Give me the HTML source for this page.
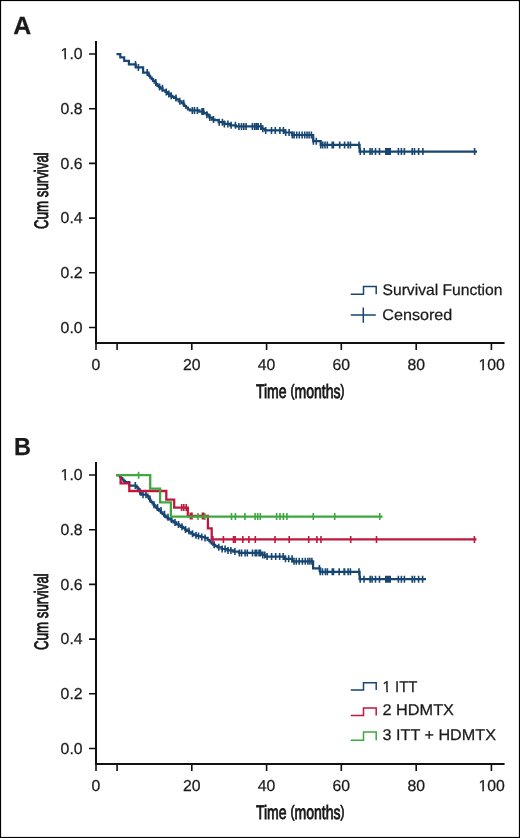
<!DOCTYPE html><html><head><meta charset="utf-8"><style>html,body{margin:0;padding:0;background:#fff}svg{display:block;will-change:transform}text{stroke:#1a1a1a;stroke-width:0.25}text.c{stroke:#111;stroke-width:0.8}text{font-family:"Liberation Sans",sans-serif;text-rendering:geometricPrecision;fill:#1a1a1a}</style></head><body>
<svg width="520" height="838" viewBox="0 0 520 838">
<rect x="0" y="0" width="520" height="838" fill="#fff"/>
<rect x="0.5" y="0.5" width="519" height="837" fill="none" stroke="#000" stroke-width="1.2"/>
<text x="13.2" y="34.4" font-size="24.9" font-weight="bold" fill="#111" textLength="18" lengthAdjust="spacingAndGlyphs">A</text>
<text x="14.1" y="455.3" font-size="24.6" font-weight="bold" fill="#111" textLength="17" lengthAdjust="spacingAndGlyphs">B</text>
<path d="M96 41 V343 H504.6" stroke="#111" stroke-width="2" fill="none" stroke-linecap="butt"/>
<path d="M89 327.5H96M89 272.8H96M89 218.1H96M89 163.4H96M89 108.7H96M89 54H96M96 343V350M117.1 343V350M191.8 343V350M266.6 343V350M341.3 343V350M416.2 343V350M491.4 343V350" stroke="#111" stroke-width="1.6" fill="none"/>
<text x="82.6" y="332.8" text-anchor="end" font-size="15.8" textLength="22" lengthAdjust="spacingAndGlyphs">0.0</text>
<text x="82.6" y="278.1" text-anchor="end" font-size="15.8" textLength="22" lengthAdjust="spacingAndGlyphs">0.2</text>
<text x="82.6" y="223.4" text-anchor="end" font-size="15.8" textLength="22" lengthAdjust="spacingAndGlyphs">0.4</text>
<text x="82.6" y="168.7" text-anchor="end" font-size="15.8" textLength="22" lengthAdjust="spacingAndGlyphs">0.6</text>
<text x="82.6" y="114" text-anchor="end" font-size="15.8" textLength="22" lengthAdjust="spacingAndGlyphs">0.8</text>
<text x="82.6" y="59.3" text-anchor="end" font-size="15.8" textLength="22" lengthAdjust="spacingAndGlyphs">1.0</text>
<text x="96" y="370" text-anchor="middle" font-size="15.8">0</text>
<text x="191.8" y="370" text-anchor="middle" font-size="15.8">20</text>
<text x="266.6" y="370" text-anchor="middle" font-size="15.8">40</text>
<text x="341.3" y="370" text-anchor="middle" font-size="15.8">60</text>
<text x="416.2" y="370" text-anchor="middle" font-size="15.8">80</text>
<text x="491.6" y="370" text-anchor="middle" font-size="15.8">100</text>
<text x="300.2" y="397.6" text-anchor="middle" font-size="19.5" class="c" textLength="88.5" lengthAdjust="spacingAndGlyphs">Time <tspan font-size="16.3" dy="-1.5">(</tspan><tspan dy="1.5">months</tspan><tspan font-size="16.3" dy="-1.5">)</tspan></text>
<text transform="translate(47.9 190.6) rotate(-90)" x="0" y="0" text-anchor="middle" font-size="19.5" class="c" textLength="76.6" lengthAdjust="spacingAndGlyphs">Cum survival</text>
<path d="M96 462 V764 H504.6" stroke="#111" stroke-width="2" fill="none" stroke-linecap="butt"/>
<path d="M89 748.5H96M89 693.8H96M89 639.1H96M89 584.4H96M89 529.7H96M89 475H96M96 764V771M117.1 764V771M191.8 764V771M266.6 764V771M341.3 764V771M416.2 764V771M491.4 764V771" stroke="#111" stroke-width="1.6" fill="none"/>
<text x="82.6" y="753.8" text-anchor="end" font-size="15.8" textLength="22" lengthAdjust="spacingAndGlyphs">0.0</text>
<text x="82.6" y="699.1" text-anchor="end" font-size="15.8" textLength="22" lengthAdjust="spacingAndGlyphs">0.2</text>
<text x="82.6" y="644.4" text-anchor="end" font-size="15.8" textLength="22" lengthAdjust="spacingAndGlyphs">0.4</text>
<text x="82.6" y="589.7" text-anchor="end" font-size="15.8" textLength="22" lengthAdjust="spacingAndGlyphs">0.6</text>
<text x="82.6" y="535" text-anchor="end" font-size="15.8" textLength="22" lengthAdjust="spacingAndGlyphs">0.8</text>
<text x="82.6" y="480.3" text-anchor="end" font-size="15.8" textLength="22" lengthAdjust="spacingAndGlyphs">1.0</text>
<text x="96" y="791" text-anchor="middle" font-size="15.8">0</text>
<text x="191.8" y="791" text-anchor="middle" font-size="15.8">20</text>
<text x="266.6" y="791" text-anchor="middle" font-size="15.8">40</text>
<text x="341.3" y="791" text-anchor="middle" font-size="15.8">60</text>
<text x="416.2" y="791" text-anchor="middle" font-size="15.8">80</text>
<text x="491.6" y="791" text-anchor="middle" font-size="15.8">100</text>
<text x="300.2" y="818.6" text-anchor="middle" font-size="19.5" class="c" textLength="88.5" lengthAdjust="spacingAndGlyphs">Time <tspan font-size="16.3" dy="-1.5">(</tspan><tspan dy="1.5">months</tspan><tspan font-size="16.3" dy="-1.5">)</tspan></text>
<text transform="translate(47.9 611.6) rotate(-90)" x="0" y="0" text-anchor="middle" font-size="19.5" class="c" textLength="76.6" lengthAdjust="spacingAndGlyphs">Cum survival</text>
<path d="M116.5 54.1H120.3V57.3H124.2V60.8H128.9V64.4H135.8V67.4H143.1V72.6H148.2H148.52 V74.3H149.18 V76H149.5H150.22 V77.6H151.68 V79.2H152.4H153.12 V80.9H154.58 V82.6H155.3H156.03 V84.2H157.47 V85.8H158.2H158.92 V87.05H160.38 V88.3H161.1H162.55 V90.3H164H165.45 V92H166.9H168.05 V93.9H170.35 V95.8H171.5H172.38 V96.85H174.12 V97.9H175H176.15 V99.4H177.3H178.75 V101.3H181.65 V103.2H183.1H183.57 V104.6H184.53 V106H185H185.97 V107.7H187.93 V109.4H188.9H189.85 V110.4H190.8H196.5H199.4 V111.6H202.3H203.75 V113.15H206.65 V114.7H208.1H208.57 V116.15H209.53 V117.6H210H211.95 V119.6H213.9H214.85 V120.2H215.8H218.65 V122.2H221.5H224.4 V123.9H227.3H230.2 V125.3H233.1H236 V126.4H238.9H261.5V128.8H265V130.4H284.8V132.5H292V135H313.2V141.2H320.7V144.9H359.6V151.6H477" stroke="#174672" stroke-width="2.2" fill="none" stroke-linejoin="miter"/>
<path d="M135.5 60.9v7M138.4 63.9v7M147.2 69.1v7M155.8 79.1v7M159.6 83.55v7M162.5 84.8v7M166.3 88.5v7M168.8 90.4v7M171.2 92.3v7M176 94.4v7M179.8 97.8v7M183.7 99.7v7M192.3 106.9v7M194.5 106.9v7M197.4 106.9v7M202 108.1v7M203.5 108.1v7M206.9 111.2v7M209.8 114.1v7M213.5 116.1v7M219.2 118.7v7M222.4 118.7v7M224.4 120.4v7M227.9 120.4v7M231.1 121.8v7M235.4 121.8v7M238.9 122.9v7M241.5 122.9v7M243.8 122.9v7M246.1 122.9v7M252.4 122.9v7M254.7 122.9v7M256.5 122.9v7M258.2 122.9v7M260.8 122.9v7M262.8 125.3v7M265.7 126.9v7M271.5 126.9v7M275.3 126.9v7M279.9 126.9v7M283.4 126.9v7M285.7 129v7M289.1 129v7M292.3 131.5v7M294.1 131.5v7M296.7 131.5v7M299.3 131.5v7M302.1 131.5v7M304.7 131.5v7M307 131.5v7M309.1 131.5v7M311.4 131.5v7M313.4 137.7v7M316.3 137.7v7M320.7 141.4v7M322.7 141.4v7M325 141.4v7M327.3 141.4v7M332.2 141.4v7M333.4 141.4v7M339.7 141.4v7M344.6 141.4v7M348.1 141.4v7M350.4 141.4v7M359 141.4v7M360.3 148.1v7M364.2 148.1v7M370.1 148.1v7M372.1 148.1v7M375.5 148.1v7M379.5 148.1v7M385.8 148.1v7M386.9 148.1v7M388 148.1v7M389.1 148.1v7M390.2 148.1v7M398.4 148.1v7M401.4 148.1v7M404.4 148.1v7M412.2 148.1v7M414.5 148.1v7M418.6 148.1v7M422.9 148.1v7M474.6 148.1v7" stroke="#174672" stroke-width="1.6" fill="none"/>
<path d="M350.8 294.2 H363.5 V286.6 H376.2 V294.2" stroke="#174672" stroke-width="1.5" fill="none"/>
<path d="M350.8 315.1H375.8M363.3 307.4V322.8" stroke="#174672" stroke-width="1.5" fill="none"/>
<text x="382.5" y="295.2" font-size="15.5" textLength="120" lengthAdjust="spacingAndGlyphs">Survival Function</text>
<text x="382.3" y="320.2" font-size="15.5" textLength="70" lengthAdjust="spacingAndGlyphs">Censored</text>
<path d="M116.5 475.1H119.8H120.05 V476.9H120.3H120.95 V478.2H122.25 V479.5H122.9H123.55 V480.8H124.85 V482.1H125.5H129.3V485.6H136H136.57 V487.13H137.7 V488.67H138.83 V490.2H139.4H139.75 V491.7H140.45 V493.2H141.15 V494.7H141.5H147.2H147.58 V496.13H148.35 V497.57H149.12 V499H149.5H150.08 V500.5H151.25 V502H152.42 V503.5H153H153.58 V504.87H154.75 V506.23H155.92 V507.6H156.5H157.35 V509.1H159.05 V510.6H159.9H160.78 V512.4H162.53 V514.2H163.4H164.18 V515.7H165.72 V517.2H166.5H167.5 V518.3H169.5 V519.4H170.5H171.5 V520.9H173.5 V522.4H174.5H176.25 V524.4H178H179 V525.6H181 V526.8H182H183.03 V528.2H185.07 V529.6H186.1H187.1 V530.95H189.1 V532.3H190.1H191.3 V533.75H193.7 V535.2H194.9H196.65 V536H198.4H200.7 V537H203H204.75 V537.9H206.5H207.65 V539.9H208.8H209.38 V541.2H210.53 V542.5H211.1H211.82 V543.65H213.28 V544.8H214H215.2 V546.05H217.6 V547.3H218.8H221.65 V549H224.5H227.4 V550.4H230.3H233.2 V551.6H236.1H239 V552.9H241.9H262.3V555H265.4V556.6H284V558.8H292.3V561.3H313.1V568.4H320.2V571.8H359.6V579.2H426" stroke="#174672" stroke-width="2.2" fill="none" stroke-linejoin="miter"/>
<path d="M135.3 482.1v7M140 488.2v7M143 491.2v7M146 491.2v7M150 495.5v7M154 501.37v7M157.5 504.1v7M161 507.1v7M164.5 510.7v7M168 513.7v7M171.5 515.9v7M175 518.9v7M178.5 520.9v7M182 523.3v7M185.5 526.1v7M189 527.45v7M192.5 530.25v7M196 531.7v7M198.5 532.5v7M201.8 533.5v7M205 534.4v7M214.2 541.3v7M218.8 543.8v7M222.2 545.5v7M225.1 545.5v7M228 546.9v7M230.9 546.9v7M234.9 548.1v7M239.4 549.4v7M241.6 549.4v7M245.1 549.4v7M247.3 549.4v7M252.5 549.4v7M255.2 549.4v7M256.7 549.4v7M259 549.4v7M260.5 549.4v7M262.8 551.5v7M264.8 551.5v7M267.1 553.1v7M271.6 553.1v7M275.7 553.1v7M279.7 553.1v7M283.2 553.1v7M285.5 555.3v7M288.7 555.3v7M292.1 555.3v7M294 557.8v7M296.3 557.8v7M299.2 557.8v7M302.4 557.8v7M305.3 557.8v7M307.9 557.8v7M309.9 557.8v7M311.9 557.8v7M319.4 564.9v7M320.2 568.3v7M322.5 568.3v7M325.4 568.3v7M327.4 568.3v7M332.3 568.3v7M333.5 568.3v7M339.2 568.3v7M344.1 568.3v7M344.6 568.3v7M348.1 568.3v7M350.4 568.3v7M359 568.3v7M360.2 575.7v7M364 575.7v7M370.1 575.7v7M372.1 575.7v7M375.5 575.7v7M379.5 575.7v7M385.8 575.7v7M386.9 575.7v7M388 575.7v7M389.1 575.7v7M390.2 575.7v7M398.4 575.7v7M401.4 575.7v7M404.4 575.7v7M412.2 575.7v7M414.5 575.7v7M418.6 575.7v7M422.6 575.7v7" stroke="#174672" stroke-width="1.6" fill="none"/>
<path d="M116.5 475.1H120.6V483.3H129.3V491H166.3V499.6H174.2V507.6H187.8V516H207.9V528.4H211.7V539.4H476.5" stroke="#c0183c" stroke-width="2.3" fill="none" stroke-linejoin="miter"/>
<path d="M181.7 504.1v7M183.8 504.1v7M186.2 504.1v7M190.4 512.5v7M192 512.5v7M202.4 512.5v7M203.6 512.5v7M212.9 535.9v7M223.4 535.9v7M233.5 535.9v7M235.2 535.9v7M242.8 535.9v7M248.9 535.9v7M255.3 535.9v7M275 535.9v7M289.2 535.9v7M308.7 535.9v7M316.9 535.9v7M321 535.9v7M350.7 535.9v7M376.5 535.9v7M474.4 535.9v7" stroke="#c0183c" stroke-width="1.6" fill="none"/>
<path d="M116.3 475.2H150.2V488.7H160.1V502.4H170.9V516.6H382.5" stroke="#3fa73f" stroke-width="2.3" fill="none" stroke-linejoin="miter"/>
<path d="M138.6 471.7v7M198 513.1v7M204.8 513.1v7M231.5 513.1v7M235.4 513.1v7M244.9 513.1v7M255.1 513.1v7M257.7 513.1v7M260.3 513.1v7M276.6 513.1v7M280 513.1v7M283.4 513.1v7M286.9 513.1v7M313.3 513.1v7M334.7 513.1v7M379.8 513.1v7" stroke="#3fa73f" stroke-width="1.6" fill="none"/>
<path d="M350.8 690 H363.5 V682.8 H376.2 V690" stroke="#174672" stroke-width="1.5" fill="none"/>
<path d="M350.8 715.4 H363.5 V707.9 H376.2 V715.4" stroke="#c0183c" stroke-width="1.5" fill="none"/>
<path d="M350.8 740.2 H363.5 V732.1 H376.2 V740.2" stroke="#3fa73f" stroke-width="1.5" fill="none"/>
<text x="382.5" y="692" font-size="15.5" textLength="35" lengthAdjust="spacingAndGlyphs">1 ITT</text>
<text x="382.5" y="714.9" font-size="15.5" textLength="71.5" lengthAdjust="spacingAndGlyphs">2 HDMTX</text>
<text x="382.5" y="740.3" font-size="15.5" textLength="113.5" lengthAdjust="spacingAndGlyphs">3 ITT + HDMTX</text>
<rect x="61" y="57" width="3.46" height="3" fill="#fff"/><rect x="66.1" y="57" width="2.9" height="3" fill="#fff"/><rect x="479" y="368" width="3.27" height="3" fill="#fff"/><rect x="483.91" y="368" width="3.09" height="3" fill="#fff"/><rect x="61" y="478" width="3.46" height="3" fill="#fff"/><rect x="66.1" y="478" width="2.9" height="3" fill="#fff"/><rect x="479" y="789" width="3.27" height="3" fill="#fff"/><rect x="483.91" y="789" width="3.09" height="3" fill="#fff"/><rect x="383" y="690" width="3.28" height="3" fill="#fff"/><rect x="387.89" y="690" width="3.11" height="3" fill="#fff"/>
</svg></body></html>
